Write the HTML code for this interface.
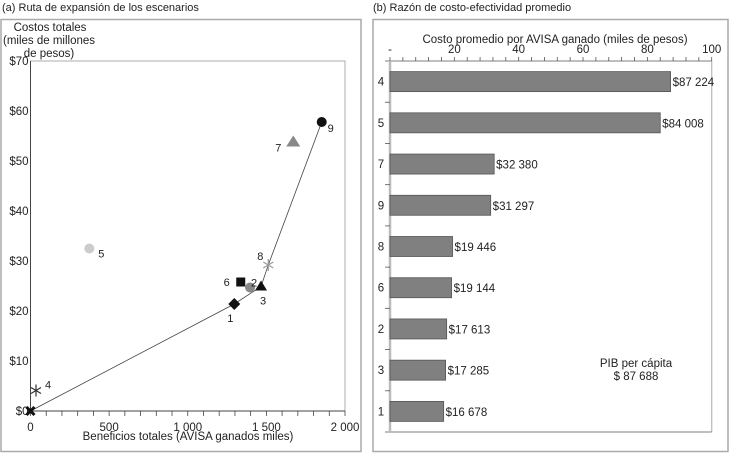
<!DOCTYPE html>
<html><head><meta charset="utf-8"><style>
html,body{margin:0;padding:0;background:#fff;}
svg{display:block;font-family:"Liberation Sans",sans-serif;}
</style></head><body>
<svg width="729" height="462" viewBox="0 0 729 462">
<g id="left"></g>
<g id="right"></g>
</svg>
<script>
// Panel (a) data
const scenLabels = ["0","1","2","3","4","5","6","7","8","9"];
const benefits = [0,1296,1396,1466,35,374,1337,1671,1512,1852];
const costs = [0,21.4,24.7,24.9,4.1,32.5,25.8,53.9,29.2,57.8];
const pathOrder = ["0","1","3","8","9"];
const xTicks = [0,500,1000,1500,2000];
const xTickLabels = ["0","500","1 000","1 500","2 000"];
const yTicks = [0,10,20,30,40,50,60,70];
// Panel (b) data
const barCats = ["4","5","7","9","8","6","2","3","1"];
const barVals = [87.224,84.008,32.380,31.297,19.446,19.144,17.613,17.285,16.678];
const barLabels = ["$87 224","$84 008","$32 380","$31 297","$19 446","$19 144","$17 613","$17 285","$16 678"];
const bTicks = [0,20,40,60,80,100];
const bTickLabels = ["-","20","40","60","80","100"];

const NS="http://www.w3.org/2000/svg";
function mk(parent,tag,attrs,text){const e=document.createElementNS(NS,tag);for(const k in attrs)e.setAttribute(k,attrs[k]);if(text!==undefined)e.textContent=text;parent.appendChild(e);return e;}

// ---------- Left panel ----------
const L=document.getElementById('left');
const X0=30.5,X1=345,Y0=411,Y1=61;
const sx=v=>X0+(v/2000)*(X1-X0);
const sy=v=>Y0-(v/70)*(Y0-Y1);
let t;
t=mk(L,'text',{x:2,y:11,'font-size':11,fill:'#222'},'(a)  Ruta de expansión de los escenarios');


let r=mk(L,'rect',{x:1,y:19.5,width:360,height:432,fill:'none',stroke:'#aaa','stroke-width':1.5});


r=mk(L,'rect',{x:X0,y:Y1,width:X1-X0,height:Y0-Y1,fill:'none',stroke:'#999','stroke-width':0.8});


mk(L,'line',{x1:X0,y1:Y1,x2:X0,y2:Y0,stroke:'#444','stroke-width':1});
mk(L,'line',{x1:X0,y1:Y0,x2:X1,y2:Y0,stroke:'#444','stroke-width':1});
["Costos totales","(miles de millones","de pesos)"].forEach((s,i)=>{
  t=mk(L,'text',{x:[50,58,70][i]-(i==1?50:0)+(i==1?40:0),y:31+i*13,'font-size':11.5,fill:'#222','text-anchor':'middle'},s);
  t.setAttribute('x',[50,49,49][i]);
  
  
});
for(let v=0;v<=2000;v+=100){mk(L,'line',{x1:sx(v),y1:Y0,x2:sx(v),y2:Y0+5,stroke:'#444','stroke-width':0.8});}
xTicks.forEach((v,i)=>{t=mk(L,'text',{x:sx(v),y:Y0+20,'font-size':11.5,fill:'#222','text-anchor':'middle'},xTickLabels[i]);
  
  });
yTicks.forEach(v=>{t=mk(L,'text',{x:X0-2,y:sy(v)+4,'font-size':11.5,fill:'#222','text-anchor':'end'},'$'+v);
  
  });
t=mk(L,'text',{x:188,y:440,'font-size':11.5,fill:'#222','text-anchor':'middle'},'Beneficios totales (AVISA ganados miles)');


// path
const pts=pathOrder.map(l=>{const i=scenLabels.indexOf(l);return sx(benefits[i])+','+sy(costs[i]);}).join(' ');
let pl=mk(L,'polyline',{points:pts,fill:'none',stroke:'#444','stroke-width':0.8});


// markers
const labOff={"0":[0,0],"1":[-4,14],"2":[4,-5],"3":[2,14],"4":[12,-6],"5":[12,5],"6":[-14,0],"7":[-15,6],"8":[-8,-9],"9":[9,6]};
scenLabels.forEach((l,i)=>{
  const x=sx(benefits[i]),y=sy(costs[i]);let m;
  if(l==="0"){m=mk(L,'path',{d:`M${x-4},${y-4}L${x+4},${y+4}M${x+4},${y-4}L${x-4},${y+4}`,stroke:'#111','stroke-width':3});}
  else if(l==="1"){m=mk(L,'polygon',{points:`${x},${y-6} ${x+6},${y} ${x},${y+6} ${x-6},${y}`,fill:'#111'});}
  else if(l==="2"){m=mk(L,'circle',{cx:x,cy:y,r:5,fill:'#888'});}
  else if(l==="3"){m=mk(L,'polygon',{points:`${x},${y-6} ${x+6},${y+4} ${x-6},${y+4}`,fill:'#111'});}
  else if(l==="4"||l==="8"){const c=l==="4"?'#333':'#999';m=mk(L,'path',{d:`M${x},${y-6}V${y+6}M${x-5},${y-3}L${x+5},${y+3}M${x+5},${y-3}L${x-5},${y+3}`,stroke:c,'stroke-width':1.2});}
  else if(l==="5"){m=mk(L,'circle',{cx:x,cy:y,r:5,fill:'#ccc'});}
  else if(l==="6"){m=mk(L,'rect',{x:x-4.5,y:y-4.5,width:9,height:9,fill:'#111'});}
  else if(l==="7"){m=mk(L,'polygon',{points:`${x},${y-6} ${x+7},${y+5} ${x-7},${y+5}`,fill:'#888'});}
  else if(l==="9"){m=mk(L,'circle',{cx:x,cy:y,r:5,fill:'#111'});}
  
  
  if(l!=="0"){const o=labOff[l];const tt=mk(L,'text',{x:x+o[0],y:y+o[1]+4,'font-size':11,fill:'#222','text-anchor':'middle'},l);
    
    }
});

// ---------- Right panel ----------
const R=document.getElementById('right');
const BX0=390,BX1=711.7,BY0=61,BY1=432;
const bx=v=>BX0+(v/100)*(BX1-BX0);
const band=(BY1-BY0)/barCats.length;
t=mk(R,'text',{x:373,y:11,'font-size':11,fill:'#222'},'(b)  Razón de costo-efectividad promedio');


r=mk(R,'rect',{x:373,y:19.5,width:355,height:432,fill:'none',stroke:'#aaa','stroke-width':1.5});


mk(R,'line',{x1:BX1,y1:BY0,x2:BX1,y2:BY1,stroke:'#bbb','stroke-width':1.2});
mk(R,'line',{x1:385,y1:BY0,x2:BX1,y2:BY0,stroke:'#555','stroke-width':0.8});
mk(R,'line',{x1:385,y1:BY1,x2:BX1,y2:BY1,stroke:'#555','stroke-width':0.8});
mk(R,'line',{x1:BX0,y1:BY0,x2:BX0,y2:BY1,stroke:'#bbb','stroke-width':2.5});
for(let v=0;v<=100;v+=4){mk(R,'line',{x1:bx(v),y1:BY0,x2:bx(v),y2:BY0-4,stroke:'#555','stroke-width':0.8});}
bTicks.forEach((v,i)=>{t=mk(R,'text',{x:bx(v),y:BY0-8,'font-size':11.5,fill:'#222','text-anchor':'middle'},bTickLabels[i]);
  
  });
t=mk(R,'text',{x:555,y:43,'font-size':11.5,fill:'#222','text-anchor':'middle'},'Costo promedio por AVISA ganado (miles de pesos)');


for(let i=1;i<barCats.length;i++){const y=BY0+band*i;mk(R,'line',{x1:385,y1:y,x2:BX0,y2:y,stroke:'#555','stroke-width':0.8});}
barCats.forEach((c,i)=>{
  const cy=BY0+band*(i+0.5);
  const b=mk(R,'rect',{x:BX0,y:cy-10,width:bx(barVals[i])-BX0,height:20,fill:'#808080',stroke:'#555','stroke-width':0.8});
  
  
  const cl=mk(R,'text',{x:381,y:cy+4,'font-size':11.5,fill:'#222','text-anchor':'middle'},c);
  
  
  const vl=mk(R,'text',{x:bx(barVals[i])+2,y:cy+4.5,'font-size':11.5,fill:'#222'},barLabels[i]);
  
  
});
t=mk(R,'text',{x:636,y:367,'font-size':11.5,fill:'#222','text-anchor':'middle'},'PIB per cápita');


t=mk(R,'text',{x:636,y:380,'font-size':11.5,fill:'#222','text-anchor':'middle'},'$ 87 688');


</script>
</body></html>
